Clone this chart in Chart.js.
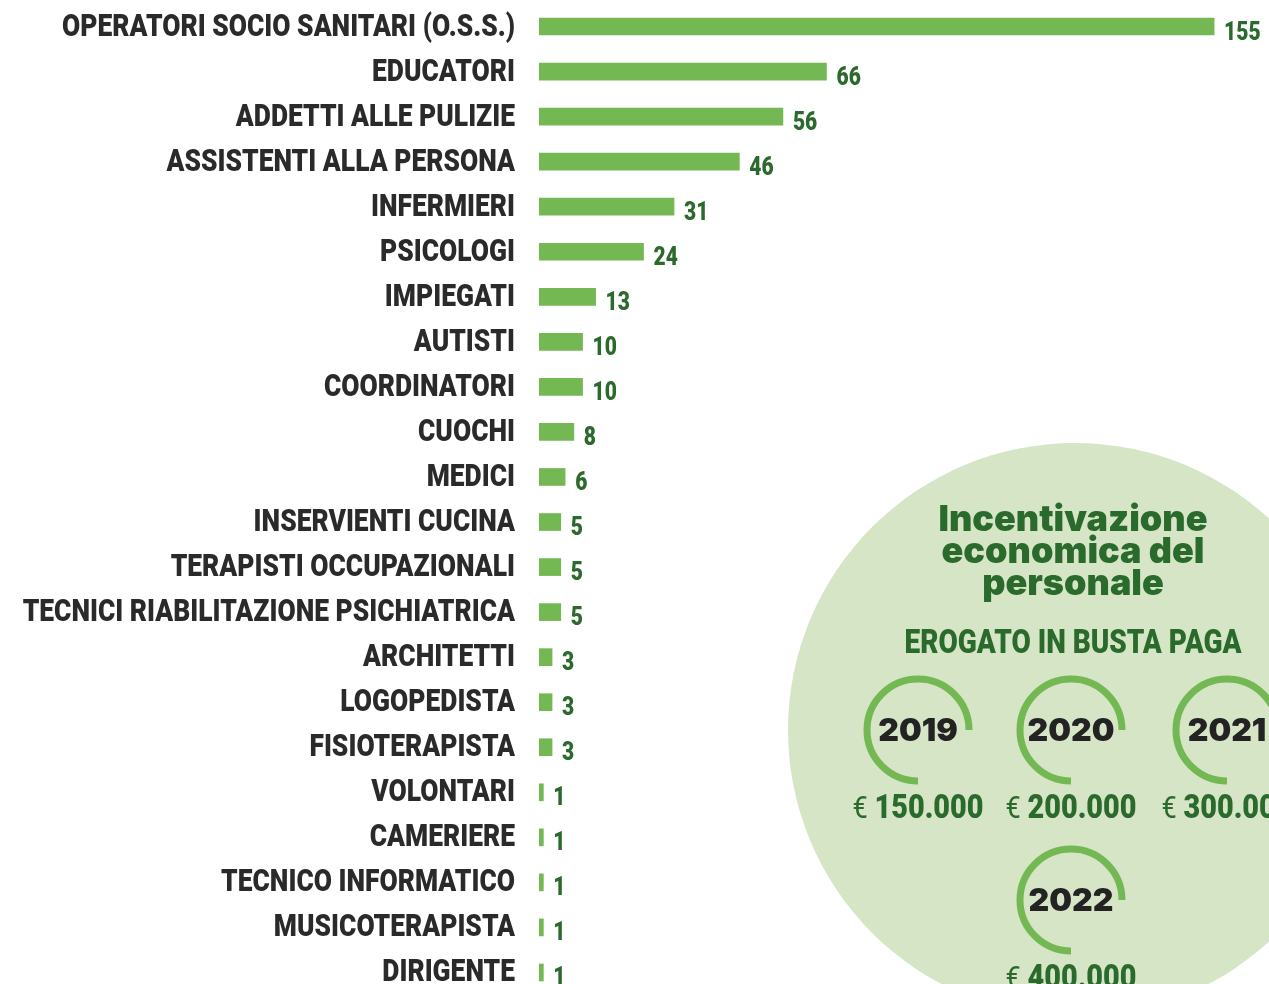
<!DOCTYPE html>
<html lang="it">
<head>
  <meta charset="UTF-8" />
  <title>Personale per ruolo</title>
  <script src="https://cdn.jsdelivr.net/npm/chart.js"></script>
  <style>
    html, body {
      margin: 0;
      padding: 0;
      background: #ffffff;
      overflow: hidden;
    }
    #wrap {
      position: relative;
      width: 1269px;
      height: 998px;
    }
  </style>
</head>
<body>
  <div id="wrap"><canvas id="ruoli" width="1269" height="998"></canvas></div>

  <script>
    const ruoli = [
      'OPERATORI SOCIO SANITARI (O.S.S.)', 'EDUCATORI', 'ADDETTI ALLE PULIZIE',
      'ASSISTENTI ALLA PERSONA', 'INFERMIERI', 'PSICOLOGI', 'IMPIEGATI', 'AUTISTI',
      'COORDINATORI', 'CUOCHI', 'MEDICI', 'INSERVIENTI CUCINA',
      'TERAPISTI OCCUPAZIONALI', 'TECNICI RIABILITAZIONE PSICHIATRICA', 'ARCHITETTI',
      'LOGOPEDISTA', 'FISIOTERAPISTA', 'VOLONTARI', 'CAMERIERE',
      'TECNICO INFORMATICO', 'MUSICOTERAPISTA', 'DIRIGENTE'
    ]
    const addetti = [155, 66, 56, 46, 31, 24, 13, 10, 10, 8, 6, 5, 5, 5, 3, 3, 3, 1, 1, 1, 1, 1]

    const titoloBox = ['Incentivazione', 'economica del', 'personale']
    const sottotitoloBox = 'EROGATO IN BUSTA PAGA'
    const anni = ['2019', '2020', '2021', '2022']
    const importi = ['150.000', '200.000', '300.000', '400.000']

    const VERDE = '#74b853'
    const VERDE_SCURO = '#2b6a2d'
    const FONT = 'Roboto, "Noto Sans", sans-serif'
    const F_LABEL = '900 31px ' + FONT

    // compressione orizzontale per imitare il font condensed del riferimento
    const misura = document.createElement('canvas').getContext('2d')
    misura.font = F_LABEL
    const STRETTO = 453 / misura.measureText(ruoli[0]).width

    function testoStretto(ctx, txt, x, y, align, sx) {
      ctx.save()
      ctx.translate(x, y)
      ctx.scale(sx, 1)
      ctx.textAlign = align
      ctx.fillText(txt, 0, 0)
      ctx.restore()
    }

    // etichette categorie + numeri a destra delle barre
    const etichettePlugin = {
      id: 'etichette',
      afterDatasetsDraw(chart) {
        const ctx = chart.ctx
        const yScale = chart.scales.y
        const meta = chart.getDatasetMeta(0)
        ctx.save()
        ctx.textBaseline = 'alphabetic'
        ruoli.forEach((r, i) => {
          const y = yScale.getPixelForValue(i)
          ctx.font = F_LABEL
          ctx.fillStyle = '#2a2a2a'
          testoStretto(ctx, r, yScale.right - 24, y + 9, 'right', STRETTO)
        })
        meta.data.forEach((bar, i) => {
          ctx.font = '900 25px ' + FONT
          ctx.fillStyle = VERDE_SCURO
          testoStretto(ctx, addetti[i], bar.x + 10, bar.y + 13, 'left', 0.84)
        })
        ctx.restore()
      }
    }

    // cerchio "Incentivazione economica del personale"
    const boxPlugin = {
      id: 'box',
      afterDraw(chart) {
        const ctx = chart.ctx
        ctx.save()
        ctx.beginPath()
        ctx.arc(1075, 730, 287, 0, Math.PI * 2)
        ctx.fillStyle = '#d5e5c6'
        ctx.fill()

        ctx.fillStyle = VERDE_SCURO
        ctx.textAlign = 'center'
        ctx.textBaseline = 'middle'
        ctx.font = '900 36px Inter, "Open Sans", sans-serif'
        titoloBox.forEach((t, i) => ctx.fillText(t, 1073, 520 + i * 32))

        ctx.textBaseline = 'alphabetic'
        ctx.font = '900 33px ' + FONT
        const sSub = 337 / ctx.measureText(sottotitoloBox).width
        testoStretto(ctx, sottotitoloBox, 1073, 653, 'center', sSub)

        const pos = [[918, 730], [1071, 730], [1227, 730], [1071, 900]]
        anni.forEach((a, i) => {
          const [cx, cy] = pos[i]
          ctx.beginPath()
          ctx.arc(cx, cy, 51, Math.PI / 2, Math.PI * 2)
          ctx.strokeStyle = VERDE
          ctx.lineWidth = 7
          ctx.stroke()

          ctx.fillStyle = '#232323'
          ctx.textBaseline = 'middle'
          ctx.font = '900 32px Inter, "Open Sans", sans-serif'
          ctx.textAlign = 'center'
          ctx.fillText(a, cx, cy + 1)

          // "€ 150.000": simbolo leggero, cifre in grassetto
          ctx.textBaseline = 'alphabetic'
          ctx.fillStyle = VERDE_SCURO
          ctx.font = '900 34px ' + FONT
          const wNum = ctx.measureText(importi[i]).width
          ctx.font = '32px ' + FONT
          const wEuro = ctx.measureText('€ ').width
          const s = 131 / (wNum + wEuro)
          const x0 = cx - 131 / 2
          testoStretto(ctx, '€ ', x0, cy + 88, 'left', s)
          ctx.font = '900 34px ' + FONT
          testoStretto(ctx, importi[i], x0 + wEuro * s, cy + 88, 'left', s)
        })
        ctx.restore()
      }
    }

    new Chart(document.getElementById('ruoli'), {
      type: 'bar',
      data: {
        labels: ruoli,
        datasets: [{
          data: addetti,
          backgroundColor: VERDE,
          barThickness: 17
        }]
      },
      options: {
        indexAxis: 'y',
        responsive: false,
        animation: false,
        layout: { padding: { top: 4, bottom: 3, left: 0, right: 0 } },
        plugins: {
          legend: { display: false },
          tooltip: { enabled: false }
        },
        scales: {
          x: { display: false, min: 0, max: 167.6 },
          y: {
            afterFit: (scale) => {
              scale.width = 539
              scale.paddingTop = 0
              scale.paddingBottom = 0
            },
            grid: { display: false, drawTicks: false },
            border: { display: false },
            ticks: { display: false }
          }
        }
      },
      plugins: [etichettePlugin, boxPlugin]
    })
  </script>
</body>
</html>
